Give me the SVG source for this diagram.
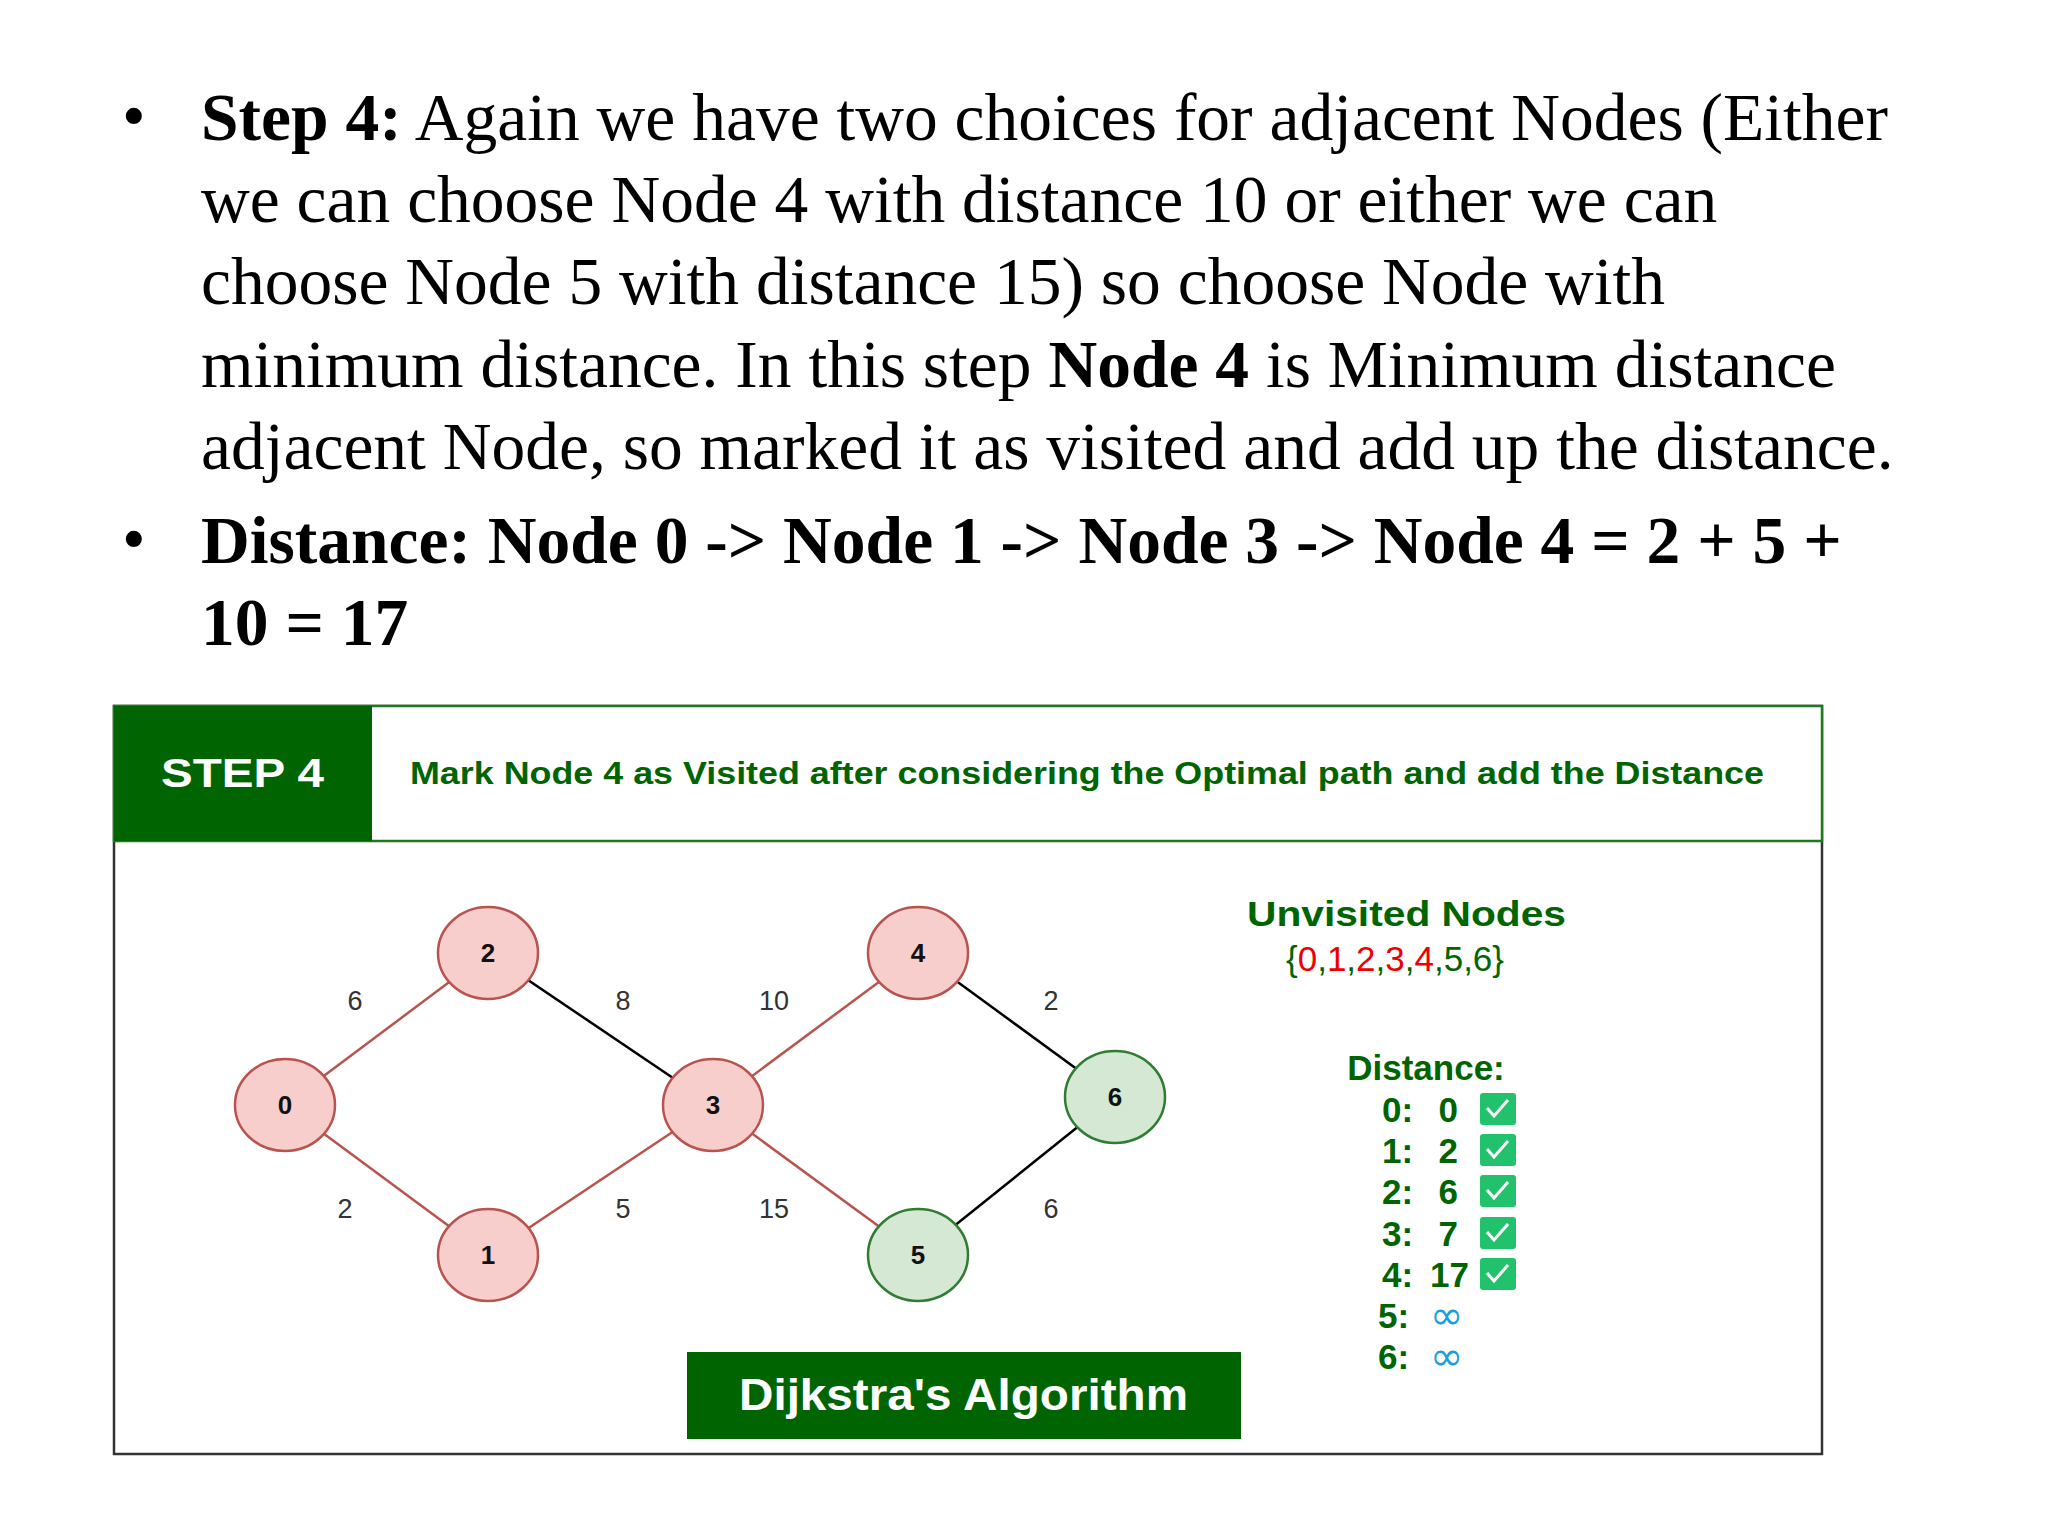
<svg xmlns="http://www.w3.org/2000/svg" width="2048" height="1536" viewBox="0 0 2048 1536">
<style>
.t{font-family:"Liberation Serif",serif;font-size:67.5px;fill:#000}
.b{font-weight:bold}
.n ellipse{fill:#f8cecc;stroke:#b85450;stroke-width:2.5}
.g ellipse{fill:#d5e8d4;stroke:#2e7d32;stroke-width:2.5}
.nl{font-family:"Liberation Sans",sans-serif;font-weight:bold;font-size:26px;text-anchor:middle;fill:#111}
.el{font-family:"Liberation Sans",sans-serif;font-size:27px;text-anchor:middle;fill:#333}
.gr{font-family:"Liberation Sans",sans-serif;font-weight:bold;fill:#006400}
.r{stroke:#b85450;stroke-width:2.5}
.k{stroke:#000;stroke-width:2.5}
.cb{fill:#21c26b}
.ck{fill:none;stroke:#fff;stroke-width:3}
.inf{font-family:"DejaVu Sans",sans-serif;font-size:40px;fill:#1a9fe0}
</style>
<rect width="2048" height="1536" fill="#fff"/>
<g id="text">
<text class="t" x="122" y="138">•</text>
<text class="t" x="201" y="140"><tspan class="b">Step 4:</tspan> Again we have two choices for adjacent Nodes (Either</text>
<text class="t" x="201" y="222">we can choose Node 4 with distance 10 or either we can</text>
<text class="t" x="201" y="304">choose Node 5 with distance 15) so choose Node with</text>
<text class="t" x="201" y="387">minimum distance. In this step <tspan class="b">Node 4</tspan> is Minimum distance</text>
<text class="t" x="201" y="469">adjacent Node, so marked it as visited and add up the distance.</text>
<text class="t" x="122" y="561">•</text>
<text class="t b" x="201" y="563">Distance: Node 0 -&gt; Node 1 -&gt; Node 3 -&gt; Node 4 = 2 + 5 +</text>
<text class="t b" x="201" y="645">10 = 17</text>
</g>
<g id="panel">
<rect x="114" y="706" width="1708" height="748" fill="#fff" stroke="#333" stroke-width="2.5"/>
<rect x="114" y="706" width="1708" height="135" fill="#fff" stroke="#1f7a1f" stroke-width="2.5"/>
<rect x="114" y="706" width="258" height="135" fill="#006400"/>
<text x="161" y="787" font-family="Liberation Sans,sans-serif" font-weight="bold" font-size="41" fill="#fff" textLength="163" lengthAdjust="spacingAndGlyphs">STEP 4</text>
<text class="gr" x="410" y="784" font-size="31" textLength="1354" lengthAdjust="spacingAndGlyphs">Mark Node 4 as Visited after considering the Optimal path and add the Distance</text>
</g>
<g id="connectors">
<line class="r" x1="285" y1="1105" x2="488" y2="953"/>
<line class="r" x1="285" y1="1105" x2="488" y2="1255"/>
<line class="k" x1="488" y1="953" x2="713" y2="1105"/>
<line class="r" x1="488" y1="1255" x2="713" y2="1105"/>
<line class="r" x1="713" y1="1105" x2="918" y2="953"/>
<line class="r" x1="713" y1="1105" x2="918" y2="1255"/>
<line class="k" x1="918" y1="953" x2="1115" y2="1097"/>
<line class="k" x1="918" y1="1255" x2="1115" y2="1097"/>
<text class="el" x="355" y="1010">6</text>
<text class="el" x="623" y="1010">8</text>
<text class="el" x="774" y="1010">10</text>
<text class="el" x="1051" y="1010">2</text>
<text class="el" x="345" y="1218">2</text>
<text class="el" x="623" y="1218">5</text>
<text class="el" x="774" y="1218">15</text>
<text class="el" x="1051" y="1218">6</text>
</g>
<g id="node0" class="n"><ellipse cx="285" cy="1105" rx="50" ry="46"/><text class="nl" x="285" y="1114">0</text></g>
<g id="node1" class="n"><ellipse cx="488" cy="1255" rx="50" ry="46"/><text class="nl" x="488" y="1264">1</text></g>
<g id="node2" class="n"><ellipse cx="488" cy="953" rx="50" ry="46"/><text class="nl" x="488" y="962">2</text></g>
<g id="node3" class="n"><ellipse cx="713" cy="1105" rx="50" ry="46"/><text class="nl" x="713" y="1114">3</text></g>
<g id="node4" class="n"><ellipse cx="918" cy="953" rx="50" ry="46"/><text class="nl" x="918" y="962">4</text></g>
<g id="node5" class="g"><ellipse cx="918" cy="1255" rx="50" ry="46"/><text class="nl" x="918" y="1264">5</text></g>
<g id="node6" class="g"><ellipse cx="1115" cy="1097" rx="50" ry="46"/><text class="nl" x="1115" y="1106">6</text></g>
<g id="legend">
<text class="gr" x="1247" y="926" font-size="35" textLength="319" lengthAdjust="spacingAndGlyphs">Unvisited Nodes</text>
<text x="1395" y="971" font-family="Liberation Sans,sans-serif" font-size="35" text-anchor="middle" fill="#006400">{<tspan fill="#e00">0</tspan>,<tspan fill="#e00">1</tspan>,<tspan fill="#e00">2</tspan>,<tspan fill="#e00">3</tspan>,<tspan fill="#e00">4</tspan>,5,6}</text>
<text class="gr" x="1426" y="1080" font-size="35" text-anchor="middle">Distance:</text>
<g font-size="35">
<text class="gr" x="1382" y="1122">0:</text><text class="gr" x="1458" y="1122" text-anchor="end">0</text>
<text class="gr" x="1382" y="1163">1:</text><text class="gr" x="1458" y="1163" text-anchor="end">2</text>
<text class="gr" x="1382" y="1204">2:</text><text class="gr" x="1458" y="1204" text-anchor="end">6</text>
<text class="gr" x="1382" y="1246">3:</text><text class="gr" x="1458" y="1246" text-anchor="end">7</text>
<text class="gr" x="1382" y="1287">4:</text><text class="gr" x="1469" y="1287" text-anchor="end">17</text>
<text class="gr" x="1378" y="1328">5:</text>
<text class="gr" x="1378" y="1369">6:</text>
</g>
<text class="inf" x="1430" y="1329">∞</text>
<text class="inf" x="1430" y="1370">∞</text>
<g>
<rect class="cb" x="1480" y="1093" width="36" height="32" rx="3"/><path class="ck" d="M1487 1108l7 8 14-16"/>
<rect class="cb" x="1480" y="1134" width="36" height="32" rx="3"/><path class="ck" d="M1487 1149l7 8 14-16"/>
<rect class="cb" x="1480" y="1175" width="36" height="32" rx="3"/><path class="ck" d="M1487 1190l7 8 14-16"/>
<rect class="cb" x="1480" y="1217" width="36" height="32" rx="3"/><path class="ck" d="M1487 1232l7 8 14-16"/>
<rect class="cb" x="1480" y="1258" width="36" height="32" rx="3"/><path class="ck" d="M1487 1273l7 8 14-16"/>
</g>
</g>
<g id="title">
<rect x="687" y="1352" width="554" height="87" fill="#006400"/>
<text x="739" y="1410" font-family="Liberation Sans,sans-serif" font-weight="bold" font-size="44" fill="#fff" textLength="449" lengthAdjust="spacingAndGlyphs">Dijkstra's Algorithm</text>
</g>
</svg>
